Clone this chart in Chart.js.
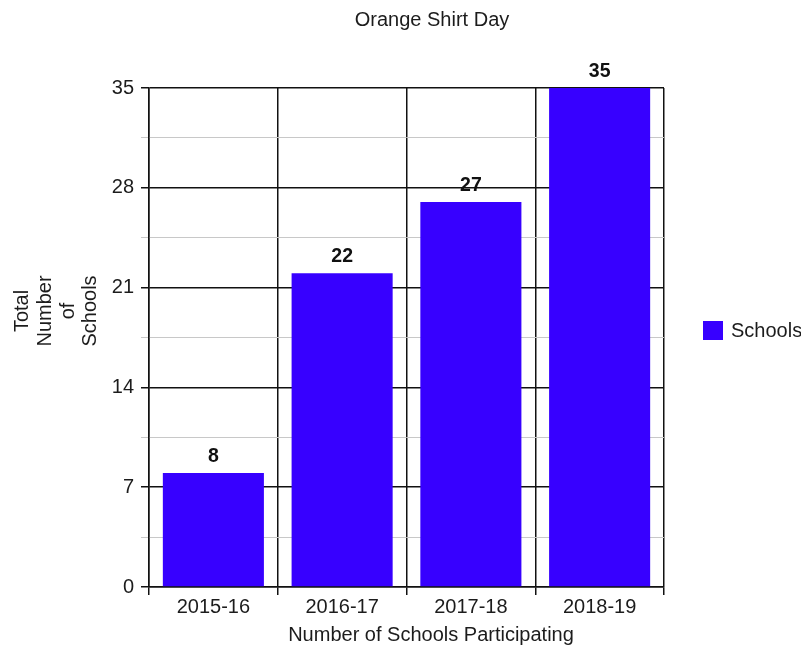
<!DOCTYPE html>
<html>
<head>
<meta charset="utf-8">
<script src="https://cdn.jsdelivr.net/npm/chart.js@4"></script>
<style>
  html, body { margin: 0; padding: 0; background: #fff; }
  #wrap { width: 801px; height: 652px; }
</style>
</head>
<body>
<div id="wrap"><canvas id="myChart" width="801" height="652"></canvas></div>
<script>
const seasons = ["2015-16", "2016-17", "2017-18", "2018-19"];
const schools = [8, 22, 27, 35];
const yTicks = [0, 7, 14, 21, 28, 35];
const chartTitle = "Orange Shirt Day";
const xTitle = "Number of Schools Participating";
const yTitle = ["Total", "Number", "of", "Schools"];
const seriesName = "Schools";

const barColor = "#3700ff";
const fontFamily = "'Liberation Sans', Arial, sans-serif";
const textColor = "#1c1c1c";

const isMajor = (v) => yTicks.some((t) => Math.abs(t - v) < 1e-6);

// labels, titles and legend drawn by hand so they sit where the original has them
const extras = {
  id: "extras",
  afterDatasetsDraw(chart) {
    const ctx = chart.ctx;
    ctx.save();
    ctx.fillStyle = "#111";
    ctx.font = "bold 19.5px " + fontFamily;
    ctx.textAlign = "center";
    ctx.textBaseline = "alphabetic";
    chart.getDatasetMeta(0).data.forEach((bar, i) => {
      ctx.fillText(schools[i], bar.x, bar.y - 11);
    });
    ctx.restore();
  },
  afterDraw(chart) {
    const ctx = chart.ctx;
    ctx.save();
    ctx.fillStyle = textColor;
    ctx.font = "20px " + fontFamily;
    ctx.textAlign = "center";
    ctx.textBaseline = "alphabetic";
    ctx.fillText(chartTitle, 432, 26);
    ctx.fillText(xTitle, 431, 641);

    // y title, one word per rotated line
    const xs = [22, 45, 68, 90];
    yTitle.forEach((line, i) => {
      ctx.save();
      ctx.translate(xs[i], 311);
      ctx.rotate(-Math.PI / 2);
      ctx.textBaseline = "middle";
      ctx.fillText(line, 0, 0);
      ctx.restore();
    });

    // legend
    ctx.fillStyle = barColor;
    ctx.fillRect(703, 321, 20, 19);
    ctx.fillStyle = textColor;
    ctx.textAlign = "left";
    ctx.textBaseline = "middle";
    ctx.fillText(seriesName, 731, 331);
    ctx.restore();
  },
};

const data = {
  labels: seasons,
  datasets: [
    {
      label: seriesName,
      data: schools,
      backgroundColor: barColor,
      borderWidth: 0,
      barPercentage: 0.785,
      categoryPercentage: 1,
    },
  ],
};

const config = {
  type: "bar",
  data: data,
  options: {
    responsive: false,
    animation: false,
    layout: { padding: { top: 88, right: 137, left: 0, bottom: 0 } },
    plugins: {
      legend: { display: false },
      title: { display: false },
      tooltip: { enabled: false },
    },
    scales: {
      x: {
        offset: true,
        grid: {
          offset: true,
          color: "#111",
          lineWidth: 1.5,
          tickLength: 8,
        },
        border: { color: "#111", width: 1.5 },
        ticks: {
          color: textColor,
          font: { family: fontFamily, size: 20 },
          padding: 0,
        },
        afterFit(scale) {
          scale.height = 65;
        },
      },
      y: {
        min: 0,
        max: 35,
        grid: {
          color: (c) => (isMajor(c.tick.value) ? "#111" : "#c8c8c8"),
          tickColor: (c) => (isMajor(c.tick.value) ? "#111" : "#c8c8c8"),
          lineWidth: (c) => (isMajor(c.tick.value) ? 1.5 : 1),
          tickLength: 8,
        },
        border: { color: "#111", width: 1.5 },
        ticks: {
          stepSize: 3.5,
          color: textColor,
          font: { family: fontFamily, size: 20 },
          padding: 7,
          callback: (v) => (isMajor(v) ? Math.round(v) : ""),
        },
        afterFit(scale) {
          scale.width = 149;
        },
      },
    },
  },
  plugins: [extras],
};

const myChart = new Chart(document.getElementById("myChart"), config);
</script>
</body>
</html>
